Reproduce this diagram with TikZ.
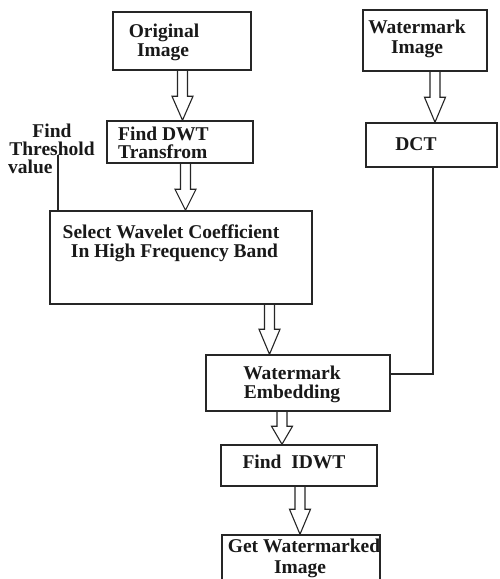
\documentclass[tikz,border=0pt]{standalone}
\usepackage{fontspec}
\setmainfont{Liberation Serif}
\usetikzlibrary{calc}
\tikzset{
  box/.style={draw=black!85, line width=1.5pt, rectangle, inner sep=0pt},
  txt/.style={font=\bfseries\fontsize{19.5}{21}\selectfont, inner sep=0pt, anchor=base, text=black!90},
  conn/.style={draw=black!85, line width=1.2pt},
  harrow/.style={draw=black!85, line width=1.1pt, line join=miter}
}
\newcommand\hollowarrow[4]{%
  \path[harrow] let \p1=(#2.south), \p2=(#3.north) in
   (#1pt-5pt,\y1) -- (#1pt-5pt,\y2+#4pt) -- (#1pt-10.5pt,\y2+#4pt) -- (#1pt,\y2)
   -- (#1pt+10.5pt,\y2+#4pt) -- (#1pt+5pt,\y2+#4pt) -- (#1pt+5pt,\y1);
}
\begin{document}
\begin{tikzpicture}[x=1pt,y=-1pt]
\clip (0,0) rectangle (500,579);
\fill[white] (0,0) rectangle (500,579);
% boxes
\node[box, minimum width=138pt, minimum height=58pt] (orig) at (182,41) {};
\node[box, minimum width=146pt, minimum height=42pt] (dwt) at (180,142) {};
\node[box, minimum width=124pt, minimum height=61pt] (wimg) at (425,40.5) {};
\node[box, minimum width=131pt, minimum height=44pt] (dct) at (431.5,145) {};
\node[box, minimum width=262pt, minimum height=93pt] (sel) at (181,257.5) {};
\node[box, minimum width=184pt, minimum height=56pt] (emb) at (298,383) {};
\node[box, minimum width=156pt, minimum height=41pt] (idwt) at (299,465.5) {};
\node[box, minimum width=158pt, minimum height=75pt] (get) at (301,572.5) {};
% texts
\node[txt] (t1) at (164,37) {Original};
\node[txt] (t2) at (163,56) {Image};
\node[txt, anchor=base west] (t3) at (118,140) {Find DWT};
\node[txt, anchor=base west] (t4) at (118,158) {Transfrom};
\node[txt] (t5) at (417,33) {Watermark};
\node[txt] (t6) at (417,53) {Image};
\node[txt] (t7) at (416,150) {DCT};
\node[txt] (t8) at (52,137) {Find};
\node[txt] (t9) at (52,155) {Threshold};
\node[txt, anchor=base west] (t10) at (8,173) {value};
\node[txt] (t11) at (171,238) {Select Wavelet Coefficient};
\node[txt] (t12) at (174.5,257) {In High Frequency Band};
\node[txt] (t13) at (292,379) {Watermark};
\node[txt] (t14) at (292,398) {Embedding};
\node[txt] (t15) at (294,468) {Find\ \ IDWT};
\node[txt] (t16) at (304,552) {Get Watermarked};
\node[txt] (t17) at (300,573) {Image};
% arrows
\hollowarrow{182.5}{orig}{dwt}{24}
\hollowarrow{185.5}{dwt}{sel}{21}
\hollowarrow{269.5}{sel}{emb}{25}
\hollowarrow{435}{wimg}{dct}{25}
\hollowarrow{282}{emb}{idwt}{18}
\hollowarrow{300}{idwt}{get}{25}
% lines
\coordinate (thr) at (58,155);
\draw[conn] (thr) -- (thr |- sel.north);
\coordinate (j) at (433,374);
\draw[conn] (dct.south -| j) -- (j) -- (j -| emb.east);
\end{tikzpicture}
\end{document}
